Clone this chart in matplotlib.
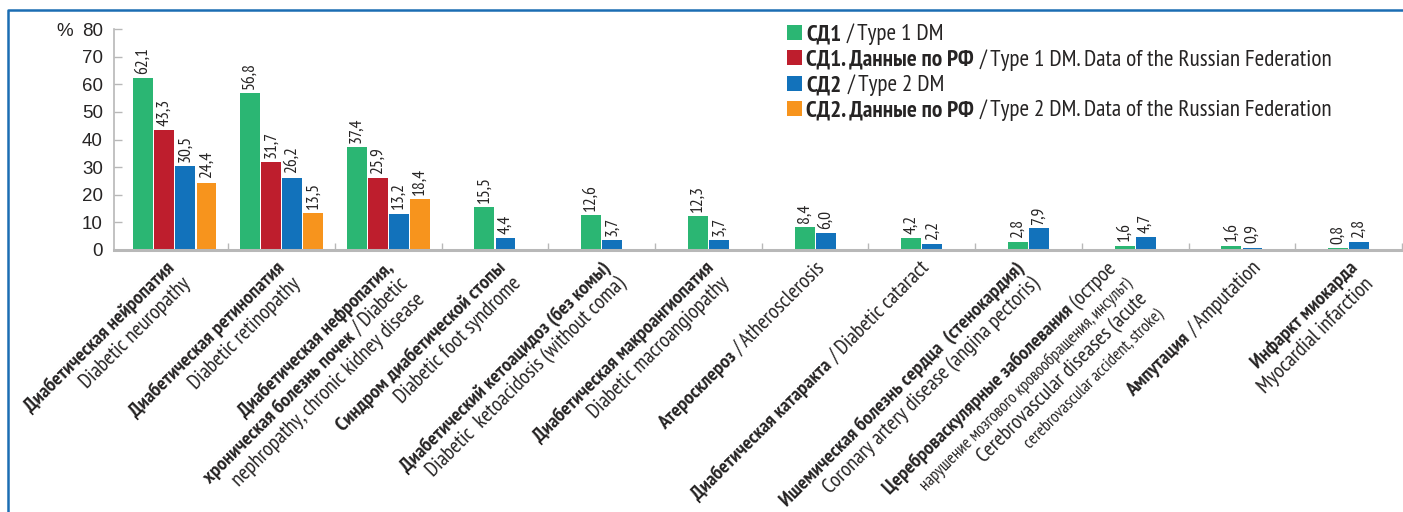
import numpy as np
import matplotlib
matplotlib.use("Agg")
import matplotlib.pyplot as plt
from matplotlib import font_manager as fm
from matplotlib.lines import Line2D
from matplotlib.patches import Rectangle

# ---------------- data ----------------
nan = np.nan
sd1 = [62.1, 56.8, 37.4, 15.5, 12.6, 12.3, 8.4, 4.2, 2.8, 1.6, 1.6, 0.8]
sd1_rf = [43.3, 31.7, 25.9, nan, nan, nan, nan, nan, nan, nan, nan, nan]
sd2 = [30.5, 26.2, 13.2, 4.4, 3.7, 3.7, 6.0, 2.2, 7.9, 4.7, 0.9, 2.8]
sd2_rf = [24.4, 13.5, 18.4, nan, nan, nan, nan, nan, nan, nan, nan, nan]
y_ticks = [0, 10, 20, 30, 40, 50, 60, 70, 80]
legend_bold = ["СД1", "СД1. Данные по РФ", "СД2", "СД2. Данные по РФ"]
legend_plain = ["/ Type 1 DM", "/ Type 1 DM. Data of the Russian Federation",
                "/ Type 2 DM", "/ Type 2 DM. Data of the Russian Federation"]
# each category: list of lines; each line: list of (text, bold?, small?)
category_labels = [
    [[("Диабетическая нейропатия", True, False)], [("Diabetic neuropathy", False, False)]],
    [[("Диабетическая ретинопатия", True, False)], [("Diabetic retinopathy", False, False)]],
    [[("Диабетическая нефропатия,", True, False)],
     [("хроническая болезнь почек", True, False), ("/ Diabetic", False, False)],
     [("nephropathy, chronic kidney disease", False, False)]],
    [[("Синдром диабетической стопы", True, False)], [("Diabetic foot syndrome", False, False)]],
    [[("Диабетический кетоацидоз (без комы)", True, False)],
     [("Diabetic  ketoacidosis (without coma)", False, False)]],
    [[("Диабетическая макроангиопатия", True, False)], [("Diabetic macroangiopathy", False, False)]],
    [[("Атеросклероз", True, False), ("/ Atherosclerosis", False, False)]],
    [[("Диабетическая катаракта", True, False), ("/ Diabetic cataract", False, False)]],
    [[("Ишемическая болезнь сердца  (стенокардия)", True, False)],
     [("Coronary artery disease (angina pectoris)", False, False)]],
    [[("Цереброваскулярные заболевания", True, False), ("(острое", False, False)],
     [("нарушение мозгового кровообращения, инсульт)", False, True)],
     [("Cerebrovascular diseases (acute", False, False)],
     [("cerebrovascular accident, stroke)", False, True)]],
    [[("Ампутация", True, False), ("/ Amputation", False, False)]],
    [[("Инфаркт миокарда", True, False)], [("Myocardial infarction", False, False)]],
]

# ---------------- fonts ----------------
available = {f.name for f in fm.fontManager.ttflist}
NARROW = "Liberation Sans"
for cand in ["PT Sans Narrow", "Roboto Condensed", "Fira Sans Condensed",
             "IBM Plex Sans Condensed", "Open Sans Condensed", "Liberation Sans Narrow"]:
    if cand in available:
        NARROW = cand
        break
REG = "Liberation Sans" if "Liberation Sans" in available else "DejaVu Sans"
plt.rcParams["font.family"] = [NARROW, "DejaVu Sans"]

colors = ["#2bb673", "#be1e2d", "#1272bb", "#f7941d"]
text_color = "#262424"
axis_color = "#b8b8b8"

W, H = 1403, 512
fig = plt.figure(figsize=(W / 100, H / 100), dpi=100)
renderer = fig.canvas.get_renderer()


def tw(s, size, bold, family=None):
    t = fig.text(0, 0, s, fontsize=size, fontweight="bold" if bold else "normal",
                 family=family if family else [NARROW, "DejaVu Sans"])
    bb = t.get_window_extent(renderer)
    t.remove()
    return bb.width


ax_left, ax_right, ax_bottom_px, ax_top_px = 114, 1402, 250, 29
ax = fig.add_axes([ax_left / W, 1 - ax_bottom_px / H,
                   (ax_right - ax_left) / W, (ax_bottom_px - ax_top_px) / H])

# value label size: "62,1" ~27 px long
val_size = 10 * 27 / tw("62,1", 10, False)

n = len(sd1)
x = np.arange(n)
step = 0.198
bw = 0.187
series = [sd1, sd1_rf, sd2, sd2_rf]
for k in range(n):
    present = [i for i, s in enumerate(series) if not np.isnan(s[k])]
    m = len(present)
    for j, i in enumerate(present):
        xpos = x[k] + (j - (m - 1) / 2) * step
        v = series[i][k]
        ax.bar(xpos, v, width=bw, color=colors[i], linewidth=0, zorder=2)
        ax.annotate(f"{v:.1f}".replace(".", ","), (xpos, v), xytext=(0, 3),
                    textcoords="offset points", rotation=90, ha="center", va="bottom",
                    fontsize=val_size, color=text_color)

ax.set_xlim(-0.57, n - 0.5)
ax.set_ylim(0, 80)
ax.set_yticks(y_ticks)
ax.set_yticklabels([str(t) for t in y_ticks], fontsize=13.5, color=text_color, family=REG)
ax.set_xticks(np.arange(n) + 0.5)
ax.set_xticklabels([])
ax.tick_params(axis="y", direction="in", length=6, width=1, color=axis_color, pad=8)
ax.tick_params(axis="x", direction="in", length=5, width=1, color=axis_color)
for s in ["top", "right"]:
    ax.spines[s].set_visible(False)
ax.spines["left"].set_color(axis_color)
ax.spines["left"].set_linewidth(1.2)
ax.spines["bottom"].set_color(axis_color)
ax.spines["bottom"].set_linewidth(2.2)
ax.spines["bottom"].set_zorder(3)

fig.text(65 / W, 1 - 31 / H, "%", fontsize=13.5, color=text_color, ha="center",
         va="center", family=REG)

# ---------------- legend ----------------
leg_x = 787
leg_rows = [32, 57.5, 83, 108]
w10 = tw(legend_bold[1], 10, True) + tw(legend_plain[1], 10, False)
leg_size = 10 * (548 - 19 - 6) / w10
for i in range(4):
    yc = leg_rows[i]
    fig.patches.append(Rectangle((leg_x / W, 1 - (yc + 7.5) / H), 15 / W, 15 / H,
                                 transform=fig.transFigure, color=colors[i], linewidth=0))
    tx = leg_x + 19
    fig.text(tx / W, 1 - yc / H, legend_bold[i], fontsize=leg_size, fontweight="bold",
             color=text_color, ha="left", va="center_baseline")
    tx += tw(legend_bold[i], leg_size, True) + 6
    fig.text(tx / W, 1 - yc / H, legend_plain[i], fontsize=leg_size,
             color=text_color, ha="left", va="center_baseline")

# ---------------- rotated category labels ----------------
c = np.cos(np.pi / 4)
bold_size = 10 * 214 / tw("Диабетическая ретинопатия", 10, True)
norm_size = 10 * 191 / tw("Diabetic macroangiopathy", 10, False)
small_size = 0.8 * norm_size
line_gap = 22
label_dx = [1, 4, 6, 12, 10, 6, 11, 9, -3, -18, 20, 10]
base_y = 269
seg_gap = 4.5
for k, lines in enumerate(category_labels):
    cx = ax.transData.transform((x[k], 0))[0]
    bx0 = cx + label_dx[k]
    by0 = H - base_y  # display coords (y up)
    for li, segs in enumerate(lines):
        bx = bx0 + li * line_gap * c
        by = by0 - li * line_gap * c
        cum = 0.0
        for (s, bold, small) in reversed(segs):
            size = small_size if small else (bold_size if bold else norm_size)
            px = bx - cum * c
            py = by - cum * c
            fig.text(px / W, py / H, s, fontsize=size, fontweight="bold" if bold else "normal",
                     rotation=45, rotation_mode="anchor", ha="right", va="baseline",
                     color=text_color)
            cum += tw(s, size, bold) + seg_gap

# ---------------- frame ----------------
fig.lines.append(Line2D([8 / W, 8 / W, 1.0], [0.0, 1 - 10 / H, 1 - 10 / H],
                        transform=fig.transFigure, color="#1b6db3", linewidth=1.8))

fig.savefig("out.png", dpi=100)
